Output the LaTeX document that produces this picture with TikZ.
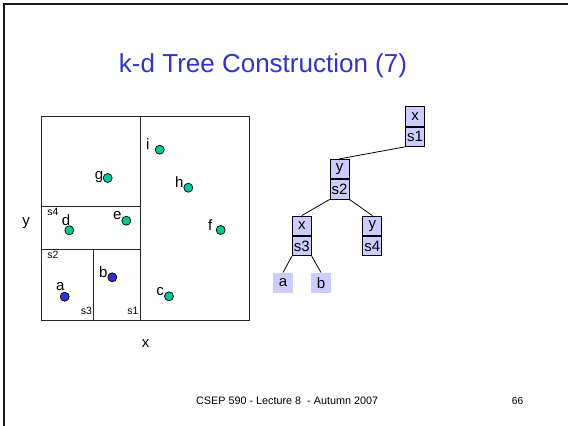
\documentclass[tikz,border=0pt]{standalone}
\usepackage{fontspec}
\setmainfont{Liberation Sans}
\usetikzlibrary{positioning}
\definecolor{titleblue}{HTML}{3333CC}
\definecolor{ptgreen}{HTML}{00C896}
\definecolor{ptblue}{HTML}{3333CC}
\definecolor{cellfill}{HTML}{CCCCFF}
\tikzset{
  region/.style={draw=black!85, line width=0.9pt},
  pt/.style={circle, draw=black, line width=0.7pt, minimum size=9pt, inner sep=0pt},
  greenpt/.style={pt, fill=ptgreen},
  bluept/.style={pt, fill=ptblue},
  ptlabel/.style={inner sep=0pt, font=\fontsize{15}{15}\selectfont},
  splitlabel/.style={inner sep=0pt, font=\fontsize{10.5}{10.5}\selectfont},
  cell/.style={draw=black, line width=0.8pt, fill=cellfill, minimum width=19pt,
    minimum height=19.5pt, inner sep=0pt, font=\fontsize{15}{15}\selectfont},
  leaf/.style={fill=cellfill, minimum width=19.4pt, minimum height=20pt,
    inner sep=0pt, font=\fontsize{15}{15}\selectfont},
  branch/.style={draw=black, line width=0.8pt},
}
\begin{document}
\begin{tikzpicture}[x=1pt, y=-1pt]
\useasboundingbox (0,0) rectangle (568,426);
\fill[white] (0,0) rectangle (568,426);
% slide frame (top and left edges)
\draw[line width=2pt, black!90] (4,426) -- (4,4) -- (568,4);

% title
\node[anchor=base, text=titleblue, inner sep=0pt, font=\fontsize{26}{26}\selectfont]
  (title) at (263,72) {k-d Tree Construction (7)};

% partitioned plane
\draw[region] (41,116) rectangle (249.3,320);
\draw[region] (140.7,116) -- (140.7,320);
\draw[region] (41,206.7) -- (140.7,206.7);
\draw[region] (41,249) -- (140.7,249);
\draw[region] (93.3,249) -- (93.3,320);

% axis labels
\node[ptlabel] (ylab) at (26,222.7) {y};
\node[ptlabel] (xlab) at (145.7,343.7) {x};

% split labels
\node[splitlabel] (ls4) at (52.8,211.5) {s4};
\node[splitlabel] (ls2) at (53,254.5) {s2};
\node[splitlabel] (ls3) at (86.3,311.3) {s3};
\node[splitlabel] (ls1) at (132.8,311.3) {s1};

% points
\node[greenpt] (pi) at (159.7,149.7) {};
\node[greenpt] (pg) at (107.7,178) {};
\node[greenpt] (ph) at (188.3,187.7) {};
\node[greenpt] (pe) at (126.3,220.7) {};
\node[greenpt] (pd) at (69.3,230.3) {};
\node[greenpt] (pf) at (220.7,230) {};
\node[bluept]  (pb) at (112.3,277.3) {};
\node[bluept]  (pa) at (64.7,296.7) {};
\node[greenpt] (pc) at (169,296.3) {};

% point names
\node[ptlabel] (li) at (147.8,144.2) {i};
\node[ptlabel] (lg) at (99,177.3) {g};
\node[ptlabel] (lh) at (179.3,181.7) {h};
\node[ptlabel] (le) at (117.3,215.5) {e};
\node[ptlabel] (ld) at (66,220) {d};
\node[ptlabel] (lf) at (210.3,224.8) {f};
\node[ptlabel] (lb) at (103.2,272.5) {b};
\node[ptlabel] (la) at (60.3,286.8) {a};
\node[ptlabel] (lc) at (160.2,291.5) {c};

% k-d tree
\node[cell] (r1) at (415,116.4) {x};
\node[cell, below=0pt of r1] (r2) {s1};
\node[cell] (m1) at (339.5,169) {y};
\node[cell, below=0pt of m1] (m2) {s2};
\node[cell] (l1) at (301.8,225.7) {x};
\node[cell, below=0pt of l1] (l2) {s3};
\node[cell] (q1) at (372.3,225.7) {y};
\node[cell, below=0pt of q1] (q2) {s4};
\node[leaf] (na) at (283,282.7) {a};
\node[leaf] (nb) at (321,282.7) {b};

\draw[branch] (r2.south west) -- (m1.north);
\draw[branch] (m2.south west) -- (l1.north);
\draw[branch] (m2.south east) -- (q1.north);
\draw[branch] (l2.south west) -- (na.north);
\draw[branch] (l2.south east) -- (nb.north);

% footer
\node[anchor=base west, inner sep=0pt, font=\fontsize{10.8}{10.8}\selectfont]
  (footer) at (196,404) {CSEP 590 - Lecture 8 \ - Autumn 2007};
\node[anchor=base west, inner sep=0pt, font=\fontsize{10.2}{10.2}\selectfont]
  (pagenum) at (511.7,404) {66};
\end{tikzpicture}
\end{document}
